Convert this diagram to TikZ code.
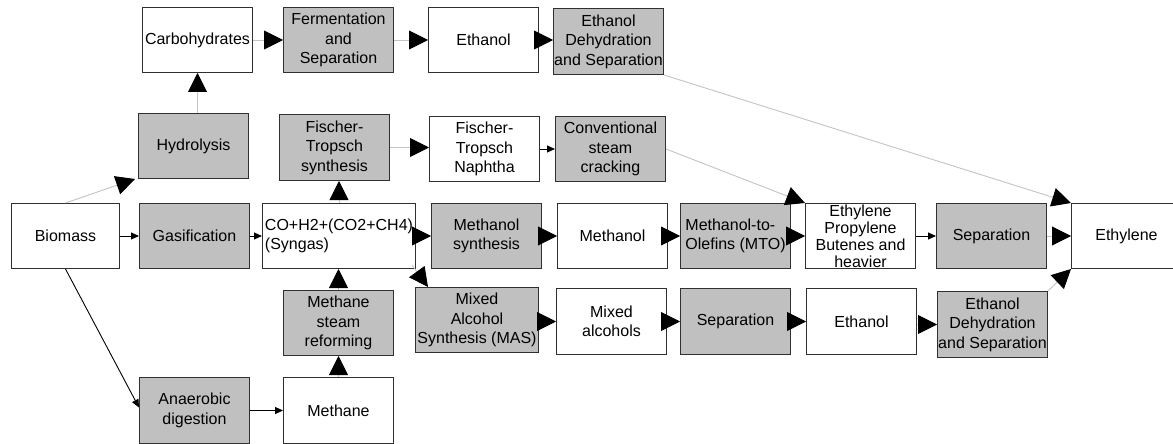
\documentclass[tikz,border=0pt]{standalone}
\usepackage{fontspec}
\setmainfont{Liberation Sans}
\usetikzlibrary{arrows.meta,calc}

\definecolor{procgray}{HTML}{C0C0C0}
\definecolor{boxline}{HTML}{303030}
\definecolor{linegray}{HTML}{C4C4C4}

\tikzset{
  box/.style={draw=boxline, line width=1pt, inner sep=0pt, anchor=north west,
    minimum width=110pt, minimum height=65pt, align=center,
    font=\fontsize{16}{19.5}\selectfont},
  proc/.style={box, fill=procgray},
  prod/.style={box, fill=white},
  gline/.style={draw=linegray, line width=0.9pt},
  kline/.style={draw=black, line width=0.9pt},
  big/.style={-{Triangle[length=19pt,width=19pt,fill=black,color=black]}},
  small/.style={-{Triangle[length=8pt,width=7pt]}},
}

\begin{document}
\begin{tikzpicture}[x=1pt, y=-1pt]
  \fill[white] (0,0) rectangle (1173,444);
  \useasboundingbox (0,0) rectangle (1173,444);
  \clip (0,0) rectangle (1173,444);

  % sugar route
  \node[prod] (carb)  at (142,7)   {Carbohydrates};
  \node[proc] (ferm)  at (283,7)   {Fermentation\\and\\Separation};
  \node[prod] (eth1)  at (428,7)   {Ethanol};
  \node[proc, minimum height=66pt] (dehy1) at (553,8) {Ethanol\\Dehydration\\and Separation};
  \node[proc] (hydro) at (138,113) {Hydrolysis};

  % Fischer-Tropsch route
  \node[proc, minimum height=66pt] (fts) at (279,114) {Fischer-\\Tropsch\\synthesis};
  \node[prod] (ftn)   at (429,116) {Fischer-\\Tropsch\\Naphtha};
  \node[proc] (conv)  at (555,116) {Conventional\\steam\\cracking};

  % main row
  \node[prod, minimum width=108pt] (bio) at (11,203) {Biomass};
  \node[proc] (gas)   at (139,203) {Gasification};
  \node[prod, minimum width=153pt, align=left] (syn) at (262,203) {CO+H2+(CO2+CH4)\\(Syngas)};
  \node[proc] (meths) at (431,203) {Methanol\\synthesis};
  \node[prod] (meth)  at (557,203) {Methanol};
  \node[proc, align=left] (mto) at (680,203) {Methanol-to-\\Olefins (MTO)};
  \node[prod, font=\fontsize{16}{17}\selectfont] (epb) at (805,203) {Ethylene\\Propylene\\Butenes and\\heavier};
  \node[proc] (sep1)  at (936,203) {Separation};
  \node[prod] (ethy)  at (1071,203) {Ethylene};

  % mixed alcohol route
  \node[proc] (msr)   at (283,290) {Methane\\steam\\reforming};
  \node[proc, minimum width=123pt] (mas) at (415,287) {Mixed\\Alcohol\\Synthesis (MAS)};
  \node[prod, minimum height=66pt] (mix)  at (556,288) {Mixed\\alcohols};
  \node[proc, minimum height=66pt] (sep2) at (680,288) {Separation};
  \node[prod, minimum height=66pt] (eth2) at (806,288) {Ethanol};
  \node[proc, minimum height=66pt] (dehy2) at (937,291) {Ethanol\\Dehydration\\and Separation};

  % biogas route
  \node[proc, minimum height=66pt] (anae) at (139,377) {Anaerobic\\digestion};
  \node[prod, minimum height=66pt] (mth)  at (283,377) {Methane};

  % connectors
  \draw[kline, small] (bio) -- (gas);
  \draw[kline, small] (gas) -- (syn);
  \draw[gline, big] (bio.north) -- ($(hydro.south west)+(-3,0)$);
  \draw[kline, small] (bio.south) -- ($(anae.west)+(0,-3)$);
  \draw[kline, small] (anae) -- (mth);
  \draw[gline, big] (mth.north) -- (mth.north |- msr.south);
  \draw[gline, big] (msr.north) -- (msr.north |- syn.south);
  \draw[gline, big] (syn.north) -- (syn.north |- fts.south);

  \draw[gline, big] (carb.south |- hydro.north) -- (carb.south);
  \draw[gline, big] (carb) -- (ferm);
  \draw[gline, big] (ferm) -- (eth1);
  \draw[gline, big] (eth1.east) -- (eth1.east -| dehy1.west);
  \draw[gline, big] (dehy1.south east) -- (ethy.north west);

  \draw[gline, big] (fts.east) -- (fts.east -| ftn.west);
  \draw[kline, small] (ftn) -- (conv);
  \draw[gline, big] (conv.east) -- (epb.north west);

  \draw[gline, big] (syn) -- (meths);
  \draw[gline, big] (meths) -- (meth);
  \draw[gline, big] (meth) -- (mto);
  \draw[gline, big] (mto) -- (epb);
  \draw[kline, small] (epb) -- (sep1);
  \draw[gline, big] (sep1) -- (ethy);

  \draw[gline, big] ($(syn.south east)+(-4,-4)$) -- ($(mas.north west)+(13,0)$);
  \draw[gline, big] (mix.west -| mas.east) -- (mix.west);
  \draw[gline, big] (mix) -- (sep2);
  \draw[gline, big] (sep2) -- (eth2);
  \draw[gline, big] (dehy2.west -| eth2.east) -- (dehy2.west);
  \draw[gline, big] (dehy2.north east) -- (ethy.south west);
\end{tikzpicture}
\end{document}
